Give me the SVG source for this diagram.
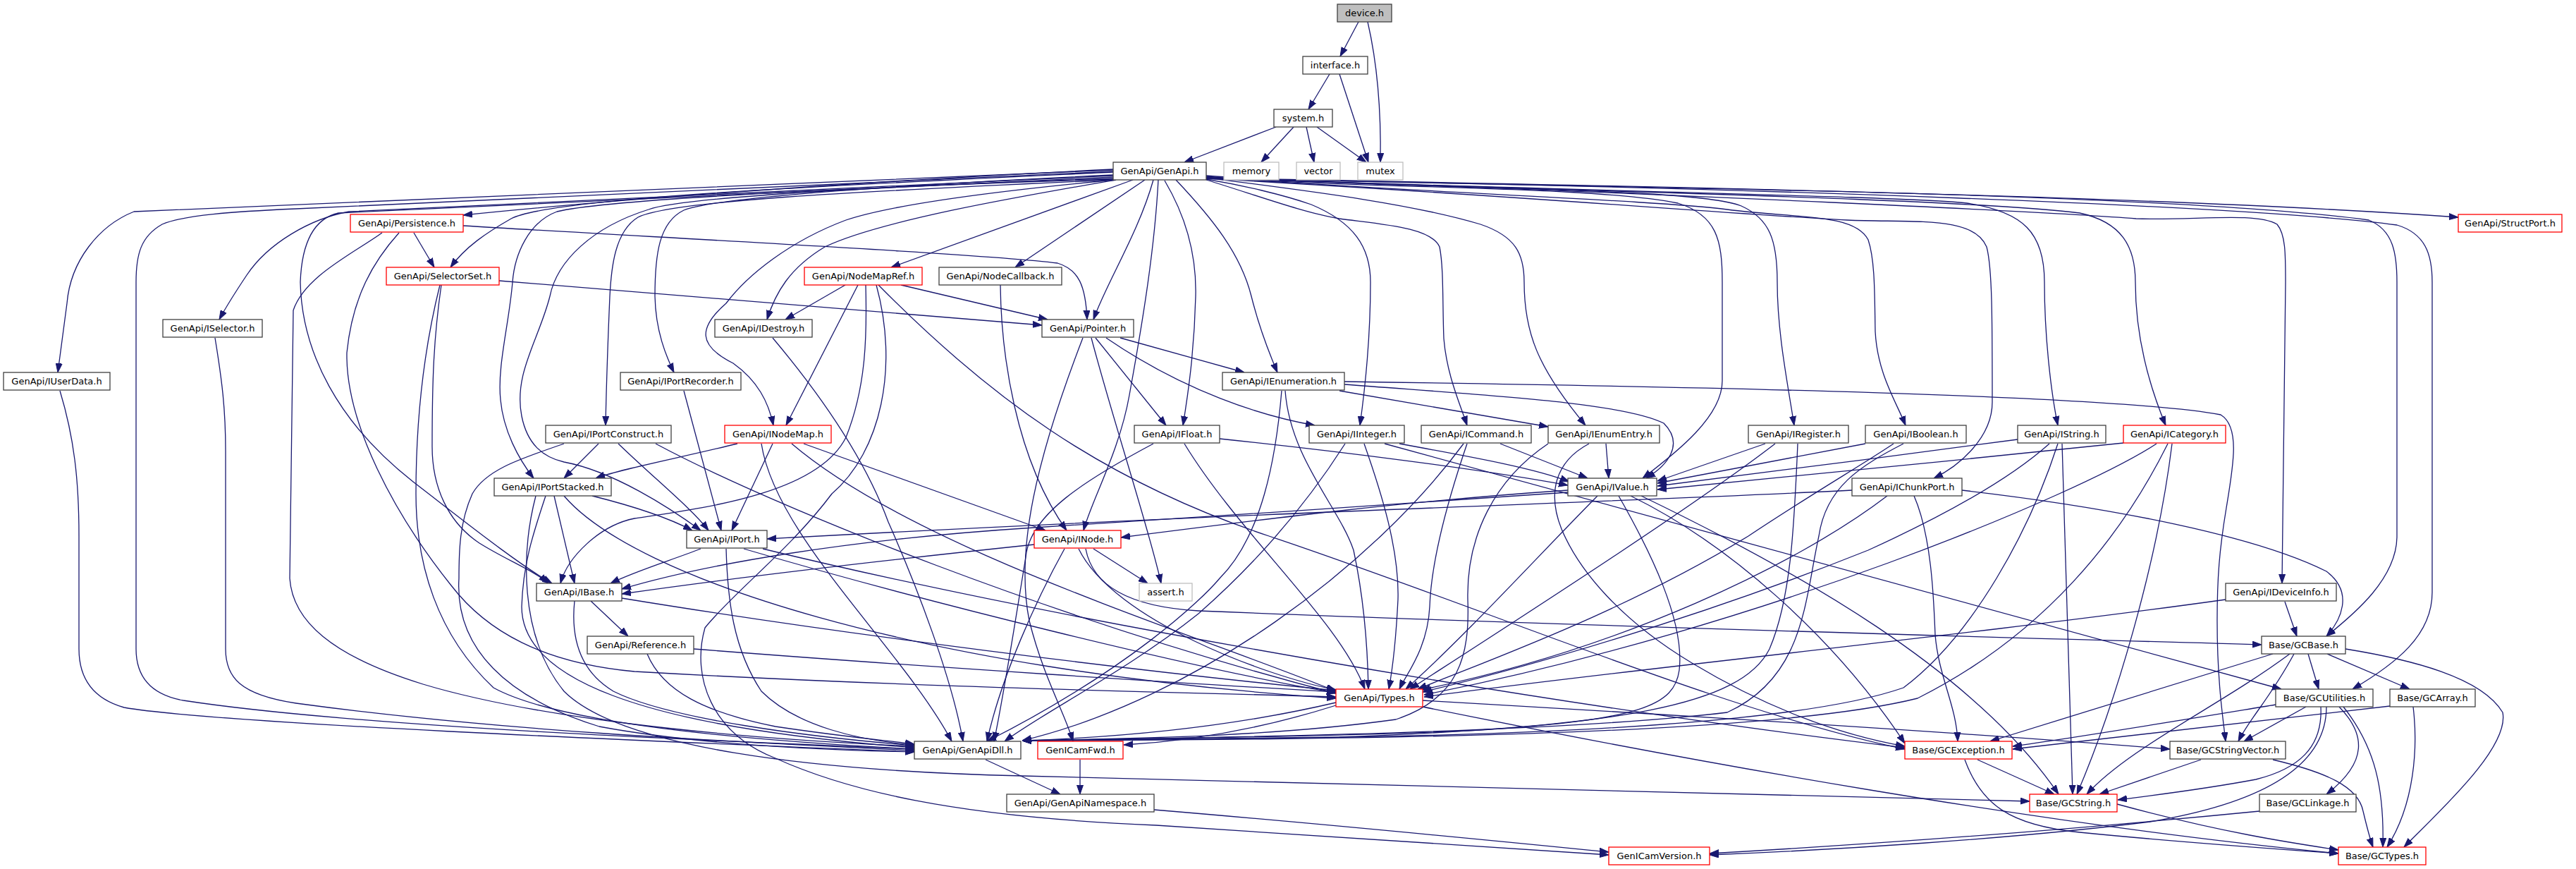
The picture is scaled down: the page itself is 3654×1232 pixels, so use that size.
<svg xmlns="http://www.w3.org/2000/svg" width="3654" height="1232" viewBox="0 0 3654 1232">
<defs>
<style>
.n rect{fill:#ffffff;stroke:#404040;stroke-width:1.3}
.r rect{stroke:#ff0000}
.x rect{stroke:#bfbfbf}
.root rect{fill:#bfbfbf}
text{font-family:"DejaVu Sans","Liberation Sans",sans-serif;font-size:13px;text-anchor:middle;fill:#000000}
#edges path{fill:none;stroke:#191970;stroke-width:1.3;marker-end:url(#a)}
</style>
<marker id="a" viewBox="0 0 13 10" refX="13" refY="5" markerWidth="13" markerHeight="10" markerUnits="userSpaceOnUse" orient="auto"><path d="M0,0.5 L13,5 L0,9.5 z" fill="#191970" stroke="#191970" stroke-width="1"/></marker>
</defs>
<rect x="0" y="0" width="3654" height="1232" fill="#ffffff"/>
<g id="edges">
<path d="M1927,31 L1901,80"/>
<path d="M1940,31 C1956,100 1959,170 1958,230"/>
<path d="M1886,105 L1856,155"/>
<path d="M1900,105 L1941,230"/>
<path d="M1810,180 L1680,230"/>
<path d="M1835,180 L1789,230"/>
<path d="M1853,180 L1864,230"/>
<path d="M1868,180 L1938,230"/>
<path d="M1579,240 C1200,258 850,285 657,305"/>
<path d="M1579,244 C1200,262 780,280 725,310 C690,330 660,350 639,379"/>
<path d="M1579,241 L190,300 C140,320 100,370 95,430 C90,470 85,505 82,528"/>
<path d="M1579,243 L420,296 C330,300 260,305 230,318 C200,335 193,360 193,400 L193,920 C193,960 215,985 260,993 C500,1030 1000,1050 1297,1062"/>
<path d="M1579,249 L495,300 C440,310 380,345 350,390 C330,420 318,440 311,453"/>
<path d="M1579,251 L480,302 C445,310 428,345 426,400 C428,500 480,600 586,683 C660,740 735,800 783,827"/>
<path d="M1579,253 C1100,270 850,285 790,300 C750,315 730,360 727,400 C722,460 705,520 710,567 C714,610 735,650 757,678"/>
<path d="M1579,254 C1200,265 960,282 920,297 C840,322 790,370 780,420 C765,480 728,530 740,590 C748,630 770,648 800,655 C870,668 950,720 994,752"/>
<path d="M1579,255 C1200,272 950,285 905,308 C872,328 867,380 865,420 C862,490 860,550 859,603"/>
<path d="M1579,248 C1200,266 1010,282 970,298 C935,315 929,360 929,420 C930,470 945,505 956,528"/>
<path d="M1581,255 C1400,272 1260,292 1200,312 C1120,342 1060,390 1030,430 C990,465 990,490 1040,515 C1075,540 1090,570 1097,603"/>
<path d="M1583,255 C1450,278 1250,312 1170,350 C1120,380 1100,415 1088,453"/>
<path d="M1607,255 L1264,379"/>
<path d="M1624,255 L1440,379"/>
<path d="M1636,255 C1615,330 1570,400 1551,453"/>
<path d="M1643,255 C1638,350 1622,450 1602,560 C1588,640 1548,710 1537,752"/>
<path d="M1652,256 C1690,320 1697,380 1696,420 C1694,500 1685,560 1678,603"/>
<path d="M1668,255 C1720,310 1760,360 1775,420 C1785,460 1800,500 1812,528"/>
<path d="M1711,254 C1760,262 1820,276 1860,290 C1920,315 1944,350 1944,400 C1944,480 1935,560 1929,603"/>
<path d="M1711,255 C1780,276 1850,302 1900,310 C1960,318 2030,322 2042,350 C2048,380 2046,430 2048,480 C2052,530 2070,570 2081,603"/>
<path d="M1711,252 C1850,270 2000,288 2100,318 C2150,335 2162,360 2162,400 C2162,470 2180,520 2249,603"/>
<path d="M1711,250 C1900,268 2250,262 2380,288 C2435,305 2443,340 2443,400 L2443,540 C2443,590 2380,640 2330,678"/>
<path d="M1711,249 C2000,270 2400,264 2470,292 C2510,310 2521,340 2521,400 C2521,470 2535,540 2545,603"/>
<path d="M1711,251 C2000,272 2350,284 2450,297 C2550,310 2630,302 2650,340 C2660,370 2659,420 2660,470 C2663,530 2690,570 2703,603"/>
<path d="M1711,253 C2100,274 2450,303 2620,312 C2720,316 2800,306 2818,350 C2826,380 2826,450 2826,570 C2826,620 2780,660 2743,678"/>
<path d="M1711,252 C2200,270 2700,278 2790,288 C2870,300 2900,330 2900,400 C2900,480 2910,560 2919,603"/>
<path d="M1711,253 C2300,272 2800,283 2950,302 C3010,315 3029,350 3029,400 C3029,480 3050,550 3072,603"/>
<path d="M1711,252 C2400,275 2950,303 3030,310 C3110,313 3200,300 3230,318 C3242,332 3242,360 3242,400 L3237,827"/>
<path d="M1711,252 C2400,266 3100,276 3360,312 C3395,326 3400,360 3400,400 L3400,760 C3400,820 3340,870 3300,902"/>
<path d="M1711,253 C2500,266 3200,292 3400,319 C3440,331 3450,360 3450,400 L3450,840 C3450,900 3400,940 3337,977"/>
<path d="M1711,253 C2300,265 3000,274 3487,308"/>
<path d="M587,330 L616,379"/>
<path d="M657,320 C900,335 1400,360 1500,373 C1530,382 1540,405 1542,453"/>
<path d="M542,330 C500,360 432,392 416,440 L411,820 C415,880 470,930 600,970 C750,1015 1000,1045 1297,1058"/>
<path d="M566,330 C530,370 500,420 492,500 C490,600 560,730 640,830 C690,895 770,940 900,952 C1300,975 1700,982 1895,988"/>
<path d="M708,398 L1478,461"/>
<path d="M626,404 C615,480 613,540 613,633 C613,690 635,740 680,770 C720,795 760,810 777,827"/>
<path d="M624,404 C600,500 590,600 590,700 C590,800 620,900 700,975 C800,1030 1100,1052 1297,1062"/>
<path d="M1199,404 L1114,453"/>
<path d="M1217,404 L1115,603"/>
<path d="M1278,404 L1486,453"/>
<path d="M1228,404 C1230,480 1228,550 1200,620 C1160,700 1000,720 900,735 C850,745 805,790 795,827"/>
<path d="M1243,404 C1275,520 1250,640 1180,700 C1120,780 1040,840 1000,890 C980,960 1010,1040 1100,1075 C1200,1120 1350,1158 1640,1170 C1900,1185 2100,1200 2282,1212"/>
<path d="M1246,404 C1400,560 1560,680 1800,760 C2100,860 2450,1010 2702,1062"/>
<path d="M1419,404 C1420,500 1440,650 1513,752"/>
<path d="M305,479 C315,540 320,580 320,640 L320,920 C320,960 340,985 420,997 C700,1035 1000,1050 1297,1064"/>
<path d="M85,554 C105,620 112,680 112,760 L112,920 C112,960 130,990 176,1003 C300,1025 900,1050 1297,1066"/>
<path d="M1096,479 C1160,555 1225,645 1260,740 C1300,830 1350,960 1366,1051"/>
<path d="M970,554 L1023,752"/>
<path d="M849,629 L800,678"/>
<path d="M877,629 C930,680 980,720 1005,752"/>
<path d="M800,629 C740,650 690,665 670,700 C652,740 651,780 651,820 C645,920 720,990 850,1030 C1000,1058 1200,1064 1297,1066"/>
<path d="M930,629 C1100,720 1500,880 1895,983"/>
<path d="M786,703 L815,827"/>
<path d="M840,703 C900,718 950,735 982,752"/>
<path d="M774,703 C755,760 742,800 740,860 C740,960 900,1030 1297,1060"/>
<path d="M800,703 C900,820 1300,950 1895,990"/>
<path d="M760,703 C740,780 735,900 800,980 C880,1060 1150,1093 1450,1100 C2000,1112 2500,1124 2879,1136"/>
<path d="M1046,629 C960,650 880,665 845,678"/>
<path d="M1096,629 L1038,752"/>
<path d="M1140,629 L1483,752"/>
<path d="M1123,629 C1300,780 1700,900 1895,980"/>
<path d="M1080,629 C1100,760 1280,920 1350,1051"/>
<path d="M1589,479 L1765,528"/>
<path d="M1569,479 C1680,555 1790,590 1865,603"/>
<path d="M1554,479 L1654,603"/>
<path d="M1548,479 C1580,600 1630,750 1647,827"/>
<path d="M1536,479 C1470,650 1440,780 1460,880 C1480,960 1510,1010 1522,1051"/>
<path d="M1900,554 L2196,605"/>
<path d="M1907,545 C2100,560 2300,570 2360,600 C2390,630 2365,660 2335,678"/>
<path d="M1907,541 C2400,548 3000,560 3150,588 C3178,605 3168,660 3158,720 C3148,780 3145,820 3145,880 C3145,960 3152,1010 3157,1051"/>
<path d="M1818,554 C1810,650 1790,760 1730,820 C1705,850 1600,950 1400,1051"/>
<path d="M1823,554 C1830,650 1900,720 1920,780 C1935,850 1940,920 1941,977"/>
<path d="M1730,622 C1900,640 2100,665 2224,688"/>
<path d="M1636,629 C1540,680 1460,730 1455,790 C1445,850 1425,980 1410,1051"/>
<path d="M1680,629 C1760,760 1900,880 1936,977"/>
<path d="M1985,629 C2100,650 2180,665 2226,683"/>
<path d="M1908,629 C1850,720 1780,800 1700,870 C1600,950 1480,1010 1425,1051"/>
<path d="M1935,629 C1960,700 1985,780 1983,850 C1980,910 1975,950 1970,977"/>
<path d="M1964,629 L3236,977"/>
<path d="M2128,629 L2252,678"/>
<path d="M2076,629 C1950,800 1700,990 1450,1050"/>
<path d="M2081,629 C2050,720 2030,800 2028,860 C2025,920 1995,955 1985,977"/>
<path d="M2278,629 L2282,678"/>
<path d="M2196,629 C2120,680 2080,760 2082,850 C2085,930 2070,990 1980,1020 C1800,1045 1600,1047 1450,1050"/>
<path d="M2254,629 C2205,655 2195,700 2215,750 C2240,810 2300,880 2400,940 C2500,1000 2600,1040 2702,1058"/>
<path d="M2504,629 L2351,682"/>
<path d="M2518,629 C2400,720 2150,880 2000,977"/>
<path d="M2550,629 C2545,750 2540,850 2510,920 C2470,1000 2300,1030 1900,1045 C1700,1047 1550,1048 1450,1050"/>
<path d="M2646,629 L2351,685"/>
<path d="M2686,629 C2640,660 2570,700 2480,760 C2300,870 2100,940 2011,977"/>
<path d="M2700,629 C2640,660 2590,690 2580,760 C2560,850 2560,960 2450,1010 C2200,1040 1700,1046 1450,1050"/>
<path d="M2862,623 C2700,645 2500,670 2351,689"/>
<path d="M2907,629 C2850,680 2760,730 2650,780 C2400,880 2150,950 2018,981"/>
<path d="M2919,629 C2880,750 2800,900 2700,975 C2500,1045 1900,1047 1450,1050"/>
<path d="M2925,629 L2940,1126"/>
<path d="M3012,628 C2800,650 2500,680 2351,694"/>
<path d="M3059,629 C2950,700 2500,890 2020,985"/>
<path d="M3075,629 C3010,760 2900,900 2720,990 C2500,1045 1900,1048 1450,1050"/>
<path d="M3081,629 C3060,800 3000,1000 2946,1126"/>
<path d="M2627,695 C2300,712 1800,725 1088,764"/>
<path d="M2677,703 C2550,800 2300,920 2016,978"/>
<path d="M2783,695 C3000,720 3200,760 3300,810 C3340,840 3320,880 3300,902"/>
<path d="M2715,703 C2740,760 2743,850 2745,900 C2750,960 2775,1000 2777,1051"/>
<path d="M2224,695 C2000,710 1800,735 1590,762"/>
<path d="M2224,698 C2000,712 1700,735 1467,748 C1200,765 1000,800 882,835"/>
<path d="M2266,703 C2180,790 2080,900 1994,977"/>
<path d="M2296,703 C2340,780 2390,880 2382,950 C2375,1000 2330,1020 2100,1035 C1900,1045 1600,1047 1450,1050"/>
<path d="M2313,703 C2450,770 2600,900 2702,1054"/>
<path d="M2328,703 C2550,810 2800,950 2920,1126"/>
<path d="M994,778 C950,795 900,810 866,827"/>
<path d="M1030,778 C1032,850 1040,920 1080,980 C1130,1030 1220,1050 1297,1056"/>
<path d="M1055,778 C1300,850 1700,950 1895,982"/>
<path d="M1082,778 C1500,880 2200,1000 2702,1060"/>
<path d="M1467,772 C1200,800 1000,825 882,842"/>
<path d="M1510,778 C1470,850 1420,960 1400,1051"/>
<path d="M1530,778 C1580,880 1800,960 1895,978"/>
<path d="M1551,778 L1628,827"/>
<path d="M1540,778 C1550,830 1600,860 1700,866 C2300,890 2900,905 3208,914"/>
<path d="M838,852 L891,902"/>
<path d="M815,852 C810,900 820,950 870,980 C950,1020 1150,1045 1297,1057"/>
<path d="M882,848 C1200,900 1600,950 1895,979"/>
<path d="M984,920 C1300,945 1700,970 1895,981"/>
<path d="M918,927 C940,980 1000,1010 1100,1030 C1200,1045 1260,1050 1297,1055"/>
<path d="M1895,996 C1750,1030 1600,1045 1450,1050"/>
<path d="M1895,1000 C1800,1030 1700,1050 1594,1056"/>
<path d="M2018,993 C2400,1015 2800,1040 3078,1062"/>
<path d="M2018,1002 C2400,1080 2900,1170 3317,1210"/>
<path d="M1398,1077 L1504,1126"/>
<path d="M1532,1077 L1532,1126"/>
<path d="M1637,1148 C1900,1170 2100,1190 2282,1208"/>
<path d="M3241,853 L3258,902"/>
<path d="M3157,850 C2800,900 2300,950 2020,988"/>
<path d="M3274,927 L3289,977"/>
<path d="M3301,927 L3418,977"/>
<path d="M3224,927 L2823,1051"/>
<path d="M3254,927 C3220,990 3190,1020 3175,1051"/>
<path d="M3248,927 C3150,1000 3020,1060 2960,1126"/>
<path d="M3327,920 C3420,935 3520,960 3550,1010 C3560,1060 3460,1150 3410,1201"/>
<path d="M3228,999 C3100,1020 2950,1045 2855,1058"/>
<path d="M3271,1002 L3183,1051"/>
<path d="M3292,1002 C3295,1060 3260,1090 3200,1105 C3120,1120 3050,1128 3004,1134"/>
<path d="M3318,1002 C3355,1040 3360,1080 3300,1126"/>
<path d="M3324,1002 C3370,1060 3382,1120 3380,1201"/>
<path d="M3300,1002 C3300,1090 3200,1140 3050,1165 C2850,1190 2600,1205 2425,1212"/>
<path d="M3390,1001 L2855,1062"/>
<path d="M3423,1002 C3430,1060 3425,1140 3386,1201"/>
<path d="M2805,1077 L2914,1126"/>
<path d="M2787,1077 C2810,1140 2850,1170 2950,1180 C3100,1195 3250,1205 3317,1210"/>
<path d="M3122,1077 L2978,1126"/>
<path d="M3224,1077 C3300,1095 3345,1115 3352,1150 C3358,1175 3362,1190 3366,1201"/>
<path d="M3003,1140 C3150,1180 3250,1195 3317,1205"/>
<path d="M3205,1150 C2900,1180 2600,1200 2425,1210"/>
</g>
<g id="n-device" class="n root"><rect x="1897" y="6" width="77" height="25"/><text x="1935.5" y="23">device.h</text></g>
<g id="n-interface" class="n"><rect x="1848" y="80" width="92" height="25"/><text x="1894" y="97">interface.h</text></g>
<g id="n-system" class="n"><rect x="1807" y="155" width="83" height="25"/><text x="1848.5" y="172">system.h</text></g>
<g id="n-genapi" class="n"><rect x="1579" y="230" width="132" height="25"/><text x="1645" y="247">GenApi/GenApi.h</text></g>
<g id="n-memory" class="n x"><rect x="1736" y="230" width="78" height="25"/><text x="1775" y="247">memory</text></g>
<g id="n-vector" class="n x"><rect x="1839" y="230" width="62" height="25"/><text x="1870" y="247">vector</text></g>
<g id="n-mutex" class="n x"><rect x="1926" y="230" width="64" height="25"/><text x="1958" y="247">mutex</text></g>
<g id="n-persistence" class="n r"><rect x="497" y="304" width="160" height="25"/><text x="577" y="321">GenApi/Persistence.h</text></g>
<g id="n-structport" class="n r"><rect x="3487" y="304" width="147" height="25"/><text x="3560.5" y="321">GenApi/StructPort.h</text></g>
<g id="n-selectorset" class="n r"><rect x="548" y="379" width="160" height="25"/><text x="628" y="396">GenApi/SelectorSet.h</text></g>
<g id="n-nodemapref" class="n r"><rect x="1141" y="379" width="167" height="25"/><text x="1224.5" y="396">GenApi/NodeMapRef.h</text></g>
<g id="n-nodecallback" class="n"><rect x="1332" y="379" width="174" height="25"/><text x="1419" y="396">GenApi/NodeCallback.h</text></g>
<g id="n-iselector" class="n"><rect x="231" y="453" width="141" height="25"/><text x="301.5" y="470">GenApi/ISelector.h</text></g>
<g id="n-idestroy" class="n"><rect x="1014" y="453" width="138" height="25"/><text x="1083" y="470">GenApi/IDestroy.h</text></g>
<g id="n-pointer" class="n"><rect x="1478" y="453" width="130" height="25"/><text x="1543" y="470">GenApi/Pointer.h</text></g>
<g id="n-iuserdata" class="n"><rect x="5" y="528" width="151" height="25"/><text x="80.5" y="545">GenApi/IUserData.h</text></g>
<g id="n-iportrecorder" class="n"><rect x="880" y="528" width="171" height="25"/><text x="965.5" y="545">GenApi/IPortRecorder.h</text></g>
<g id="n-ienumeration" class="n"><rect x="1734" y="528" width="173" height="25"/><text x="1820.5" y="545">GenApi/IEnumeration.h</text></g>
<g id="n-iportconstruct" class="n"><rect x="774" y="603" width="178" height="25"/><text x="863" y="620">GenApi/IPortConstruct.h</text></g>
<g id="n-inodemap" class="n r"><rect x="1028" y="603" width="151" height="25"/><text x="1103.5" y="620">GenApi/INodeMap.h</text></g>
<g id="n-ifloat" class="n"><rect x="1609" y="603" width="121" height="25"/><text x="1669.5" y="620">GenApi/IFloat.h</text></g>
<g id="n-iinteger" class="n"><rect x="1857" y="603" width="135" height="25"/><text x="1924.5" y="620">GenApi/IInteger.h</text></g>
<g id="n-icommand" class="n"><rect x="2016" y="603" width="156" height="25"/><text x="2094" y="620">GenApi/ICommand.h</text></g>
<g id="n-ienumentry" class="n"><rect x="2196" y="603" width="158" height="25"/><text x="2275" y="620">GenApi/IEnumEntry.h</text></g>
<g id="n-iregister" class="n"><rect x="2480" y="603" width="142" height="25"/><text x="2551" y="620">GenApi/IRegister.h</text></g>
<g id="n-iboolean" class="n"><rect x="2646" y="603" width="143" height="25"/><text x="2717.5" y="620">GenApi/IBoolean.h</text></g>
<g id="n-istring" class="n"><rect x="2862" y="603" width="125" height="25"/><text x="2924.5" y="620">GenApi/IString.h</text></g>
<g id="n-icategory" class="n r"><rect x="3012" y="603" width="145" height="25"/><text x="3084.5" y="620">GenApi/ICategory.h</text></g>
<g id="n-iportstacked" class="n"><rect x="701" y="678" width="166" height="25"/><text x="784" y="695">GenApi/IPortStacked.h</text></g>
<g id="n-ivalue" class="n"><rect x="2224" y="678" width="126" height="25"/><text x="2287" y="695">GenApi/IValue.h</text></g>
<g id="n-ichunkport" class="n"><rect x="2627" y="678" width="156" height="25"/><text x="2705" y="695">GenApi/IChunkPort.h</text></g>
<g id="n-iport" class="n"><rect x="974" y="752" width="114" height="25"/><text x="1031" y="769">GenApi/IPort.h</text></g>
<g id="n-inode" class="n r"><rect x="1467" y="752" width="123" height="25"/><text x="1528.5" y="769">GenApi/INode.h</text></g>
<g id="n-ibase" class="n"><rect x="761" y="827" width="121" height="25"/><text x="821.5" y="844">GenApi/IBase.h</text></g>
<g id="n-assert" class="n x"><rect x="1616" y="827" width="75" height="25"/><text x="1653.5" y="844">assert.h</text></g>
<g id="n-ideviceinfo" class="n"><rect x="3157" y="827" width="157" height="25"/><text x="3235.5" y="844">GenApi/IDeviceInfo.h</text></g>
<g id="n-reference" class="n"><rect x="833" y="902" width="151" height="25"/><text x="908.5" y="919">GenApi/Reference.h</text></g>
<g id="n-gcbase" class="n"><rect x="3208" y="902" width="119" height="25"/><text x="3267.5" y="919">Base/GCBase.h</text></g>
<g id="n-types" class="n r"><rect x="1895" y="977" width="123" height="25"/><text x="1956.5" y="994">GenApi/Types.h</text></g>
<g id="n-gcutilities" class="n"><rect x="3228" y="977" width="138" height="25"/><text x="3297" y="994">Base/GCUtilities.h</text></g>
<g id="n-gcarray" class="n"><rect x="3390" y="977" width="121" height="25"/><text x="3450.5" y="994">Base/GCArray.h</text></g>
<g id="n-genapidll" class="n"><rect x="1297" y="1051" width="151" height="25"/><text x="1372.5" y="1068">GenApi/GenApiDll.h</text></g>
<g id="n-genicamfwd" class="n r"><rect x="1472" y="1051" width="121" height="25"/><text x="1532.5" y="1068">GenICamFwd.h</text></g>
<g id="n-gcexception" class="n r"><rect x="2702" y="1051" width="152" height="25"/><text x="2778" y="1068">Base/GCException.h</text></g>
<g id="n-gcstringvector" class="n"><rect x="3078" y="1051" width="164" height="25"/><text x="3160" y="1068">Base/GCStringVector.h</text></g>
<g id="n-genapinamespace" class="n"><rect x="1428" y="1126" width="209" height="25"/><text x="1532.5" y="1143">GenApi/GenApiNamespace.h</text></g>
<g id="n-gcstring" class="n r"><rect x="2879" y="1126" width="124" height="25"/><text x="2941" y="1143">Base/GCString.h</text></g>
<g id="n-gclinkage" class="n"><rect x="3205" y="1126" width="137" height="25"/><text x="3273.5" y="1143">Base/GCLinkage.h</text></g>
<g id="n-genicamversion" class="n r"><rect x="2282" y="1201" width="143" height="25"/><text x="2353.5" y="1218">GenICamVersion.h</text></g>
<g id="n-gctypes" class="n r"><rect x="3317" y="1201" width="124" height="25"/><text x="3379" y="1218">Base/GCTypes.h</text></g>
</svg>
